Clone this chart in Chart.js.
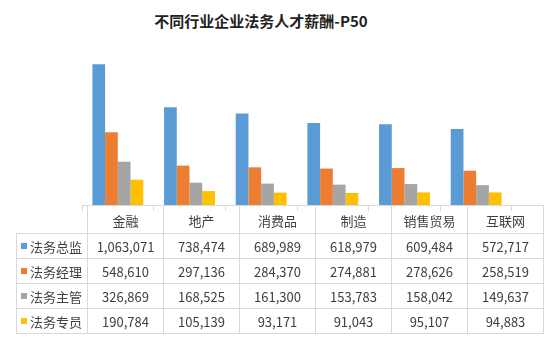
<!DOCTYPE html>
<html>
<head>
<meta charset="utf-8">
<script src="https://cdn.jsdelivr.net/npm/chart.js@4/dist/chart.umd.min.js"></script>
<style>
  html, body { margin: 0; padding: 0; background: #fff; }
  #wrap { position: relative; width: 554px; height: 339px; overflow: hidden; font-family: "Noto Sans CJK SC", "Noto Sans", sans-serif; }
  #title { position: absolute; left: 0; width: 522px; top: 10px; text-align: center; font-size: 15px; font-weight: bold; color: #222; line-height: 22px; }
  canvas { position: absolute; left: 0; top: 0; }
  #tbl { position: absolute; left: 16px; top: 205px; border-collapse: collapse; table-layout: fixed; color: #404040; font-size: 13px; }
  #tbl td, #tbl th { border: 1px solid #d9d9d9; padding: 0; text-align: center; height: 24px; font-weight: normal; white-space: nowrap; overflow: hidden; }
  #tbl th { height: 26px; padding-top: 1px; }
  #tbl th.blank { border: none; }
  #tbl td.name { text-align: left; padding-left: 4px; }
  .sw { display: inline-block; width: 6px; height: 6px; margin-right: 3px; vertical-align: 3px; }
</style>
</head>
<body>
<div id="wrap">
  <div id="title">不同行业企业法务人才薪酬-P50</div>
  <canvas id="c" width="554" height="339"></canvas>
  <table id="tbl"></table>
</div>
<script>
// Industries along the x axis
const categories = ['金融', '地产', '消费品', '制造', '销售贸易', '互联网'];

// Position titles, one series each
const seriesNames = ['法务总监', '法务经理', '法务主管', '法务专员'];

// Median (P50) annual pay per industry
const director   = [1063071, 738474, 689989, 618979, 609484, 572717];
const manager    = [548610, 297136, 284370, 274881, 278626, 258519];
const supervisor = [326869, 168525, 161300, 153783, 158042, 149637];
const specialist = [190784, 105139, 93171, 91043, 95107, 94883];

const seriesValues = [director, manager, supervisor, specialist];
const seriesColors = ['#5B9BD5', '#ED7D31', '#A5A5A5', '#FFC000'];

const datasets = seriesNames.map((name, i) => ({
  label: name,
  data: seriesValues[i],
  backgroundColor: seriesColors[i],
  borderWidth: 0,
  categoryPercentage: 0.71,
  barPercentage: 1.0
}));

new Chart(document.getElementById('c'), {
  type: 'bar',
  data: { labels: categories, datasets },
  options: {
    responsive: false,
    animation: false,
    layout: { padding: { left: 82, right: 42, top: 46, bottom: 128 } },
    plugins: { legend: { display: false }, title: { display: false }, tooltip: { enabled: false } },
    scales: {
      x: {
        ticks: { display: false },
        grid: { display: true, drawOnChartArea: false, drawTicks: true, tickLength: 6, color: '#d9d9d9' },
        border: { display: true, color: '#d9d9d9' }
      },
      y: {
        display: false, min: 0, max: 1200000,
        grid: { display: false },
        border: { display: false }
      }
    }
  }
});

// Data table under the plot: header row of industries, then one row per position
const fmt = v => v.toLocaleString('en-US');
const tbl = document.getElementById('tbl');
const colW = [71, 76, 76, 76, 76, 76, 76];
const cg = document.createElement('colgroup');
colW.forEach(w => { const c = document.createElement('col'); c.style.width = w + 'px'; cg.appendChild(c); });
tbl.appendChild(cg);
const head = document.createElement('tr');
head.innerHTML = '<th class="blank"></th>' + categories.map(c => '<th>' + c + '</th>').join('');
tbl.appendChild(head);
seriesNames.forEach((name, i) => {
  const tr = document.createElement('tr');
  tr.innerHTML = '<td class="name"><span class="sw" style="background:' + seriesColors[i] + '"></span>' + name + '</td>' +
    seriesValues[i].map(v => '<td>' + fmt(v) + '</td>').join('');
  tbl.appendChild(tr);
});
</script>
</body>
</html>
